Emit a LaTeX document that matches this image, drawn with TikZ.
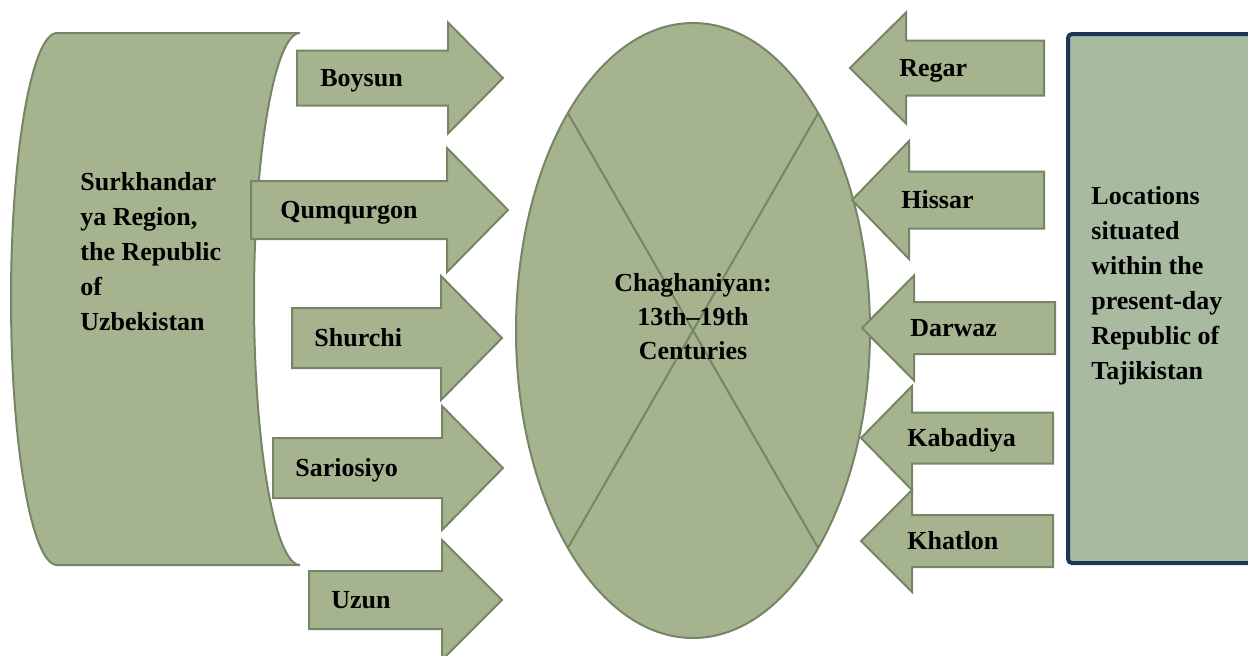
\documentclass[tikz,border=0pt]{standalone}
\usepackage{fontspec}
\setmainfont{Liberation Serif}
\usetikzlibrary{shapes.geometric}
\definecolor{sagefill}{RGB}{165,179,143}
\definecolor{sageline}{RGB}{118,133,102}
\definecolor{tajikfill}{RGB}{168,186,160}
\definecolor{tajikline}{RGB}{31,53,84}
\tikzset{
  blocky/.style={draw=sageline, fill=sagefill, line width=1pt},
  placename/.style={font=\fontsize{13}{17.5}\selectfont\bfseries, inner sep=0pt, anchor=base west},
  areatext/.style={font=\fontsize{13}{17.5}\selectfont\bfseries, inner sep=0pt, align=left, anchor=north west}
}
% block arrow: name, tail x, head x, tip x, mid y, half shaft, half head, label x, label
\newcommand{\blockarrow}[9]{%
  \draw[blocky] (#2,#5-#6) -- (#3,#5-#6) -- (#3,#5-#7) -- (#4,#5) -- (#3,#5+#7) -- (#3,#5+#6) -- (#2,#5+#6) -- cycle;
  \node[placename] (#1) at (#8,#5+8.5) {#9};
}

\begin{document}
\begin{tikzpicture}[x=0.5pt, y=-0.5pt]
  \useasboundingbox (0,0) rectangle (1248,655);
  \clip (0,0) rectangle (1248,655);

  \draw[blocky] (57,33) -- (300,33) .. controls (275,33) and (254,152) .. (254,299)
    .. controls (254,446) and (275,565) .. (300,565) -- (57,565)
    .. controls (32,565) and (11,446) .. (11,299) .. controls (11,152) and (32,33) .. (57,33) -- cycle;
  \node[areatext] (surkhan) at (80,172) {Surkhandar\\ya Region,\\the Republic\\of\\Uzbekistan};

  \draw[draw=tajikline, fill=tajikfill, line width=2pt, rounded corners=2pt] (1068,34) rectangle (1275,563);
  \node[areatext] (tajik) at (1091,186) {Locations\\situated\\within the\\present-day\\Republic of\\Tajikistan};

  \node[ellipse, blocky, minimum width=177pt, minimum height=307.5pt, inner sep=0pt, outer sep=0pt] (chag) at (693,330.5) {};
  \draw[sageline, line width=1pt] (chag.north west) -- (chag.south east) (chag.north east) -- (chag.south west);
  \node[font=\fontsize{13}{17}\selectfont\bfseries, align=center, anchor=north, inner sep=0pt] (chagtext) at (693,273) {Chaghaniyan:\\13th–19th\\Centuries};

  \blockarrow{boysun}{297}{448}{503}{78}{27.5}{55.5}{320}{Boysun}
  \blockarrow{qumqurgon}{251}{447}{508}{210}{29}{62}{280}{Qumqurgon}
  \blockarrow{shurchi}{292}{441}{502}{338}{30}{62}{314}{Shurchi}
  \blockarrow{sariosiyo}{273}{442}{503}{468}{30}{62}{295}{Sariosiyo}
  \blockarrow{uzun}{309}{442}{502}{600}{29}{60}{331}{Uzun}
  \blockarrow{regar}{1044}{906}{850}{68}{27.5}{55.5}{899}{Regar}
  \blockarrow{hissar}{1044}{909}{852}{200}{28.5}{59}{901}{Hissar}
  \blockarrow{darwaz}{1055}{914}{862}{328}{26}{52.5}{910}{Darwaz}
  \blockarrow{kabadiya}{1053}{912}{861}{438}{25.5}{52}{907}{Kabadiya}
  \blockarrow{khatlon}{1053}{912}{861}{541}{26}{51}{907}{Khatlon}
\end{tikzpicture}
\end{document}
